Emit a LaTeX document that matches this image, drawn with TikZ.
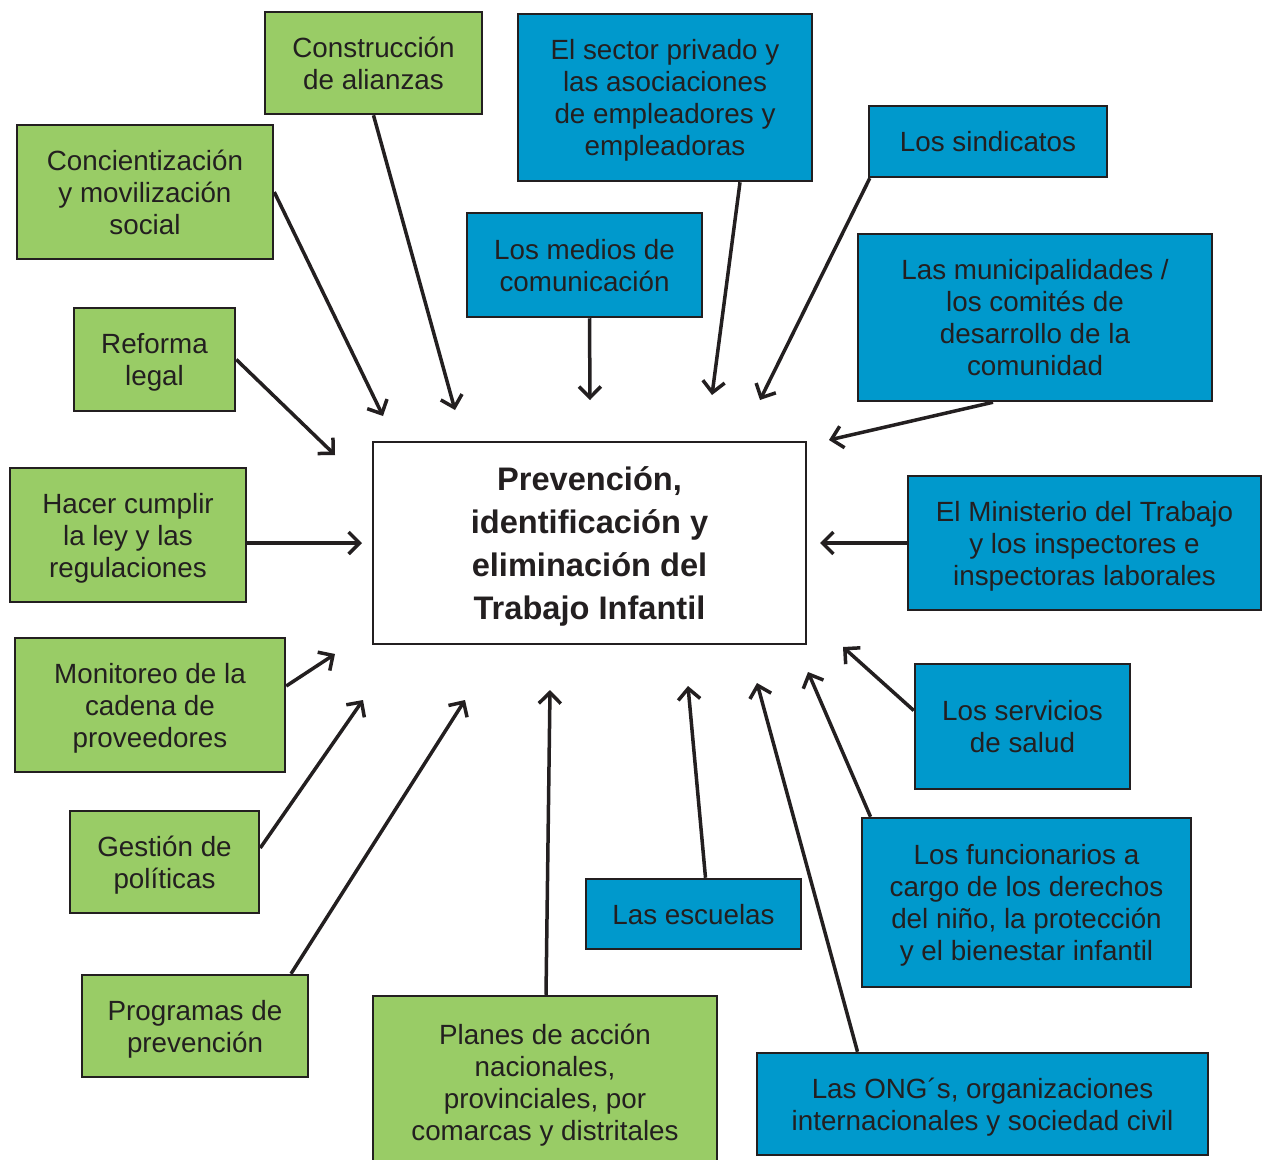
\documentclass[tikz,border=0pt]{standalone}
\usepackage{fontspec}
\setmainfont{Liberation Sans}
\usetikzlibrary{arrows.meta,calc}
\definecolor{gbox}{RGB}{153,204,102}
\definecolor{bbox}{RGB}{0,153,204}
\definecolor{ink}{RGB}{35,31,32}
\tikzset{
  boxbase/.style={draw=ink, line width=2.5pt, inner sep=0pt, align=center, text=ink,
    font=\fontsize{27.8}{32}\selectfont, text depth=0pt},
  gnode/.style={boxbase, fill=gbox},
  bnode/.style={boxbase, fill=bbox},
  centerbox/.style={draw=ink, line width=2pt, fill=white, inner sep=0pt, align=center, text=ink,
    font=\fontsize{32.6}{43}\selectfont\bfseries, text depth=0pt},
  arr/.style={draw=ink, line width=3.5pt, -{Straight Barb[length=11pt,width=22pt]}},
}
\begin{document}
\begin{tikzpicture}[x=1pt,y=-1pt]
\useasboundingbox (0,0) rectangle (1271,1159);
\clip (0,0) rectangle (1271,1159);
\fill[white] (0,0) rectangle (1271,1159);

% center
\node[centerbox, minimum width=433pt, minimum height=202pt] (c) at (589.5,543) {Prevención,\\identificación y\\eliminación del\\Trabajo Infantil};

% green boxes
\node[gnode, minimum width=217pt, minimum height=102pt] (g1) at (373.5,63) {Construcción\\de alianzas};
\node[gnode, minimum width=256pt, minimum height=134pt] (g2) at (145,192) {Concientización\\y movilización\\social};
\node[gnode, minimum width=161pt, minimum height=103pt] (g3) at (154.5,359.5) {Reforma\\legal};
\node[gnode, minimum width=236pt, minimum height=134pt] (g4) at (128,535) {Hacer cumplir\\la ley y las\\regulaciones};
\node[gnode, minimum width=270pt, minimum height=134pt] (g5) at (150,705) {Monitoreo de la\\cadena de\\proveedores};
\node[gnode, minimum width=189pt, minimum height=102pt] (g6) at (164.5,862) {Gestión de\\políticas};
\node[gnode, minimum width=226pt, minimum height=102pt] (g7) at (195,1026) {Programas de\\prevención};
\node[gnode, minimum width=344pt, minimum height=172pt] (g8) at (545,1082) {Planes de acción\\nacionales,\\provinciales, por\\comarcas y distritales};

% blue boxes
\node[bnode, minimum width=294pt, minimum height=167pt] (b1) at (665,97.5) {El sector privado y\\las asociaciones\\de empleadores y\\empleadoras};
\node[bnode, minimum width=235pt, minimum height=104pt] (b2) at (584.5,265) {Los medios de\\comunicación};
\node[bnode, minimum width=238pt, minimum height=71pt] (b3) at (988,141.5) {Los sindicatos};
\node[bnode, minimum width=354pt, minimum height=167pt] (b4) at (1035,317.5) {Las municipalidades /\\los comités de\\desarrollo de la\\comunidad};
\node[bnode, minimum width=353pt, minimum height=134pt] (b5) at (1084.5,543) {El Ministerio del Trabajo\\y los inspectores e\\inspectoras laborales};
\node[bnode, minimum width=215pt, minimum height=125pt] (b6) at (1022.5,726.5) {Los servicios\\de salud};
\node[bnode, minimum width=329pt, minimum height=169pt] (b7) at (1026.5,902.5) {Los funcionarios a\\cargo de los derechos\\del niño, la protección\\y el bienestar infantil};
\node[bnode, minimum width=215pt, minimum height=70pt] (b8) at (693.5,914) {Las escuelas};
\node[bnode, minimum width=451pt, minimum height=102pt] (b9) at (982.5,1104) {Las ONG´s, organizaciones\\internacionales y sociedad civil};

% arrow tips
\coordinate (t1) at (455,410);
\coordinate (t2) at (383,416);
\coordinate (t3) at (335,455);
\coordinate (t4) at (362,543);
\coordinate (t5) at (335,654);
\coordinate (t6) at (363,700);
\coordinate (t7) at (465,700);
\coordinate (t8) at (550,690);
\coordinate (t9) at (688,686);
\coordinate (t10) at (757,683);
\coordinate (t11) at (808,672);
\coordinate (t12) at (843,647);
\coordinate (t13) at (820,543);
\coordinate (t14) at (829,440);
\coordinate (t15) at (760,400);
\coordinate (t16) at (712,395);
\coordinate (t17) at (590,400);

\draw[arr] (g1.south) -- (t1);
\draw[arr] (g2.east) -- (t2);
\draw[arr] (g3.east) -- (t3);
\draw[arr] ($(g4.east)+(0,8)$) -- (t4);
\draw[arr] ($(g5.east)+(0,-19)$) -- (t5);
\draw[arr] ($(g6.east)+(0,-14)$) -- (t6);
\draw[arr] ($(g7.north)+(96,0)$) -- (t7);
\draw[arr] ($(g8.north)+(1,0)$) -- (t8);
\draw[arr] ($(b8.north)+(12,0)$) -- (t9);
\draw[arr] ($(b9.north)+(-125,0)$) -- (t10);
\draw[arr] ($(b7.north)+(-156,0)$) -- (t11);
\draw[arr] ($(b6.west)+(0,-16)$) -- (t12);
\draw[arr] (b5.west) -- (t13);
\draw[arr] ($(b4.south)+(-42,0)$) -- (t14);
\draw[arr] ($(b3.south west)+(2,0)$) -- (t15);
\draw[arr] ($(b1.south)+(75,0)$) -- (t16);
\draw[arr] ($(b2.south)+(5,0)$) -- (t17);
\end{tikzpicture}
\end{document}
